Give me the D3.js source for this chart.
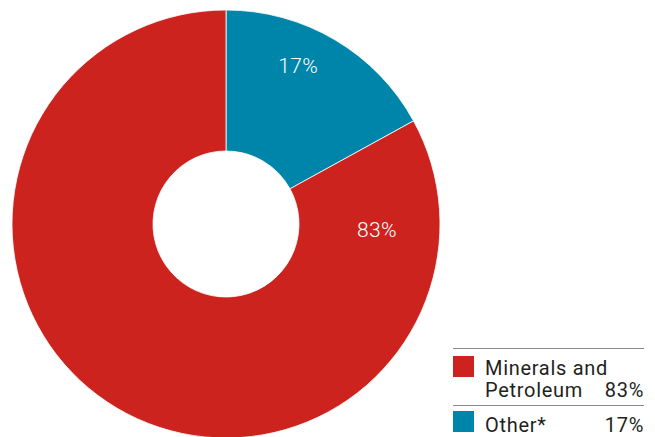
<!DOCTYPE html>
<html>
<head>
<meta charset="utf-8">
<script src="https://cdn.jsdelivr.net/npm/d3@7/dist/d3.min.js"></script>
<style>
  html, body { margin: 0; padding: 0; background: #fff; }
  svg { display: block; }
  text { font-family: Roboto, "Noto Sans", sans-serif; }
</style>
</head>
<body>
<svg id="chart" width="655" height="437"></svg>
<script>
// Revenue share by source
const categories = ["Other*", "Minerals and Petroleum"];
const shares = [17, 83];
const colors = ["#0085aa", "#cd231f"];
const legendOrder = [1, 0];
const legendLines = [["Minerals and", "Petroleum"], ["Other*"]];

const svg = d3.select("#chart");
const cx = 226, cy = 224, outerR = 214, innerR = 73;

const pie = d3.pie().sort(null).value(d => d)(shares);
const arc = d3.arc().innerRadius(innerR).outerRadius(outerR);

const g = svg.append("g").attr("transform", `translate(${cx},${cy})`);
g.selectAll("path.slice")
  .data(pie)
  .join("path")
  .attr("class", "slice")
  .attr("d", arc)
  .attr("fill", (d, i) => colors[i])
  .attr("stroke", "#ffffff")
  .attr("stroke-width", 0.8);

// value labels inside each slice (angle in degrees clockwise from 12 o'clock, radius)
const labelSpots = [[24.5, 174], [92.3, 151]];
g.selectAll("text.val")
  .data(pie)
  .join("text")
  .attr("class", "val")
  .attr("x", (d, i) => labelSpots[i][1] * Math.sin(labelSpots[i][0] * Math.PI / 180))
  .attr("y", (d, i) => -labelSpots[i][1] * Math.cos(labelSpots[i][0] * Math.PI / 180))
  .attr("text-anchor", "middle")
  .attr("dominant-baseline", "central")
  .attr("fill", "#ffffff")
  .attr("font-size", 21)
  .attr("font-weight", 300)
  .attr("letter-spacing", 0.3)
  .text(d => d.data + "%");

// legend
const lg = svg.append("g");
const lx0 = 453, lx1 = 644;
const rows = [{ top: 348, sq: 356, base: 375 }, { top: 405, sq: 411, base: 432 }];
legendOrder.forEach((ci, r) => {
  const row = rows[r];
  lg.append("line")
    .attr("x1", lx0).attr("x2", lx1)
    .attr("y1", row.top + 0.5).attr("y2", row.top + 0.5)
    .attr("stroke", "#8a8a8a").attr("stroke-width", 1);
  lg.append("rect")
    .attr("x", lx0).attr("y", row.sq)
    .attr("width", 21).attr("height", 21)
    .attr("fill", colors[ci]);
  const lines = legendLines[r];
  lines.forEach((t, k) => {
    lg.append("text")
      .attr("x", 485).attr("y", row.base + k * 22)
      .attr("fill", "#231f20").attr("font-size", 20)
      .attr("letter-spacing", 0.7)
      .text(t);
  });
  lg.append("text")
    .attr("x", lx1).attr("y", row.base + (lines.length - 1) * 22)
    .attr("text-anchor", "end")
    .attr("fill", "#231f20").attr("font-size", 20)
    .attr("letter-spacing", 0.7)
    .text(shares[ci] + "%");
});
</script>
</body>
</html>
